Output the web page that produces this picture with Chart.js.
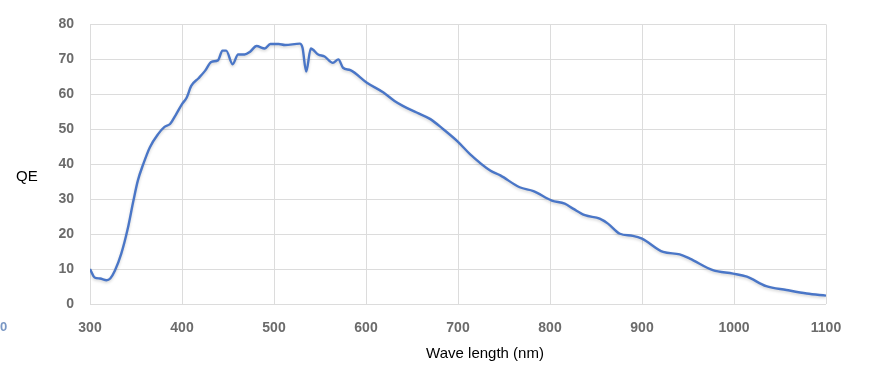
<!DOCTYPE html>
<html>
<head>
<meta charset="utf-8">
<script src="https://cdn.jsdelivr.net/npm/chart.js@4.4.1/dist/chart.umd.min.js"></script>
<style>
  html, body { margin: 0; padding: 0; background: #fff; }
  #wrap { width: 880px; height: 378px; position: relative; }
</style>
</head>
<body>
<div id="wrap"><canvas id="qeChart" width="880" height="378"></canvas></div>
<script>
// wavelength (nm) and QE (%)
const wavelengths = [300, 305, 311, 318, 322, 327, 334, 341, 347, 352, 358, 365, 374, 381, 387, 393, 400,
  405, 410, 418, 425, 432, 439, 444, 448, 455, 461, 468, 474, 481, 490, 496, 505, 512, 528, 531,
  535, 540, 548, 555, 564, 570, 575, 583, 601, 619, 631, 640, 655, 670, 684, 700, 713, 735, 746,
  767, 782, 802, 816, 825, 838, 854, 863, 876, 890, 900, 923, 941, 952, 977, 999, 1014, 1035,
  1057, 1079, 1100];
const qeValues = [10, 7.6, 7.3, 6.8, 7.3, 9.5, 14.4, 21.5, 29.3, 35.3, 40.1, 44.8, 48.6, 50.7, 51.5, 54, 57.2,
  59, 62.4, 64.6, 66.7, 69.3, 69.7, 72.5, 72.5, 68.6, 71.4, 71.4, 72.2, 73.8, 73.1, 74.4, 74.4, 74.1, 74.5, 73.3,
  66.5, 73.1, 71.4, 70.8, 69, 70, 67.6, 66.9, 63.3, 60.5, 58.1, 56.7, 54.8, 52.9, 50, 46.4, 42.9, 38.2, 36.8,
  33.4, 32.3, 29.6, 28.7, 27.3, 25.4, 24.4, 23, 20.1, 19.5, 18.7, 14.9, 14.2, 13, 9.7, 8.7, 7.8, 5.1,
  4, 3.0, 2.4];
const xTicks = [300, 400, 500, 600, 700, 800, 900, 1000, 1100];
const yTicks = [0, 10, 20, 30, 40, 50, 60, 70, 80];

const points = wavelengths.map((w, i) => ({ x: w, y: qeValues[i] }));

// axis titles and the stray label, drawn as canvas text
const extraText = {
  id: 'extraText',
  afterDraw(chart) {
    const { ctx, chartArea } = chart;
    ctx.save();
    ctx.fillStyle = '#000';
    ctx.font = '15px "Liberation Sans", Arial, sans-serif';
    ctx.textBaseline = 'middle';
    ctx.textAlign = 'left';
    ctx.fillText('QE', 16, chart.scales.y.getPixelForValue(36.5));
    ctx.textAlign = 'center';
    ctx.fillText('Wave length (nm)', (chartArea.left + chartArea.right) / 2 + 27, 354);
    ctx.fillStyle = '#7a97c4';
    ctx.font = 'bold 13px "Liberation Sans", Arial, sans-serif';
    ctx.textAlign = 'left';
    ctx.fillText('0', 0, 327);
    ctx.restore();
  }
};

const lineShadow = {
  id: 'lineShadow',
  beforeDatasetDraw(chart) {
    const ctx = chart.ctx;
    ctx.save();
    ctx.shadowColor = 'rgba(0,0,0,0.18)';
    ctx.shadowBlur = 3;
    ctx.shadowOffsetY = 1.5;
  },
  afterDatasetDraw(chart) {
    chart.ctx.restore();
  }
};

const tickFont = { family: '"Liberation Sans", Arial, sans-serif', size: 14, weight: 'bold' };

new Chart(document.getElementById('qeChart'), {
  type: 'line',
  data: {
    datasets: [{
      data: points,
      borderColor: '#4a76c7',
      borderWidth: 2.4,
      pointRadius: 0,
      cubicInterpolationMode: 'monotone',
      fill: false
    }]
  },
  options: {
    responsive: false,
    animation: false,
    layout: { padding: { top: 23, right: 54, left: 0, bottom: 0 } },
    plugins: { legend: { display: false }, tooltip: { enabled: false } },
    scales: {
      x: {
        type: 'linear',
        min: 300,
        max: 1100,
        afterBuildTicks: s => { s.ticks = xTicks.map(v => ({ value: v })); },
        afterFit: s => { s.height = 74; },
        grid: { color: '#dcdcdc', lineWidth: 1, drawTicks: false },
        border: { display: false },
        ticks: { color: '#6b6b6b', font: tickFont, padding: 16, callback: v => String(v) }
      },
      y: {
        min: 0,
        max: 80,
        afterBuildTicks: s => { s.ticks = yTicks.map(v => ({ value: v })); },
        afterFit: s => { s.width = 90; },
        grid: { color: '#dcdcdc', lineWidth: 1, drawTicks: false },
        border: { display: false },
        ticks: { color: '#6b6b6b', font: tickFont, padding: 16, callback: v => String(v) }
      }
    }
  },
  plugins: [lineShadow, extraText]
});
</script>
</body>
</html>
